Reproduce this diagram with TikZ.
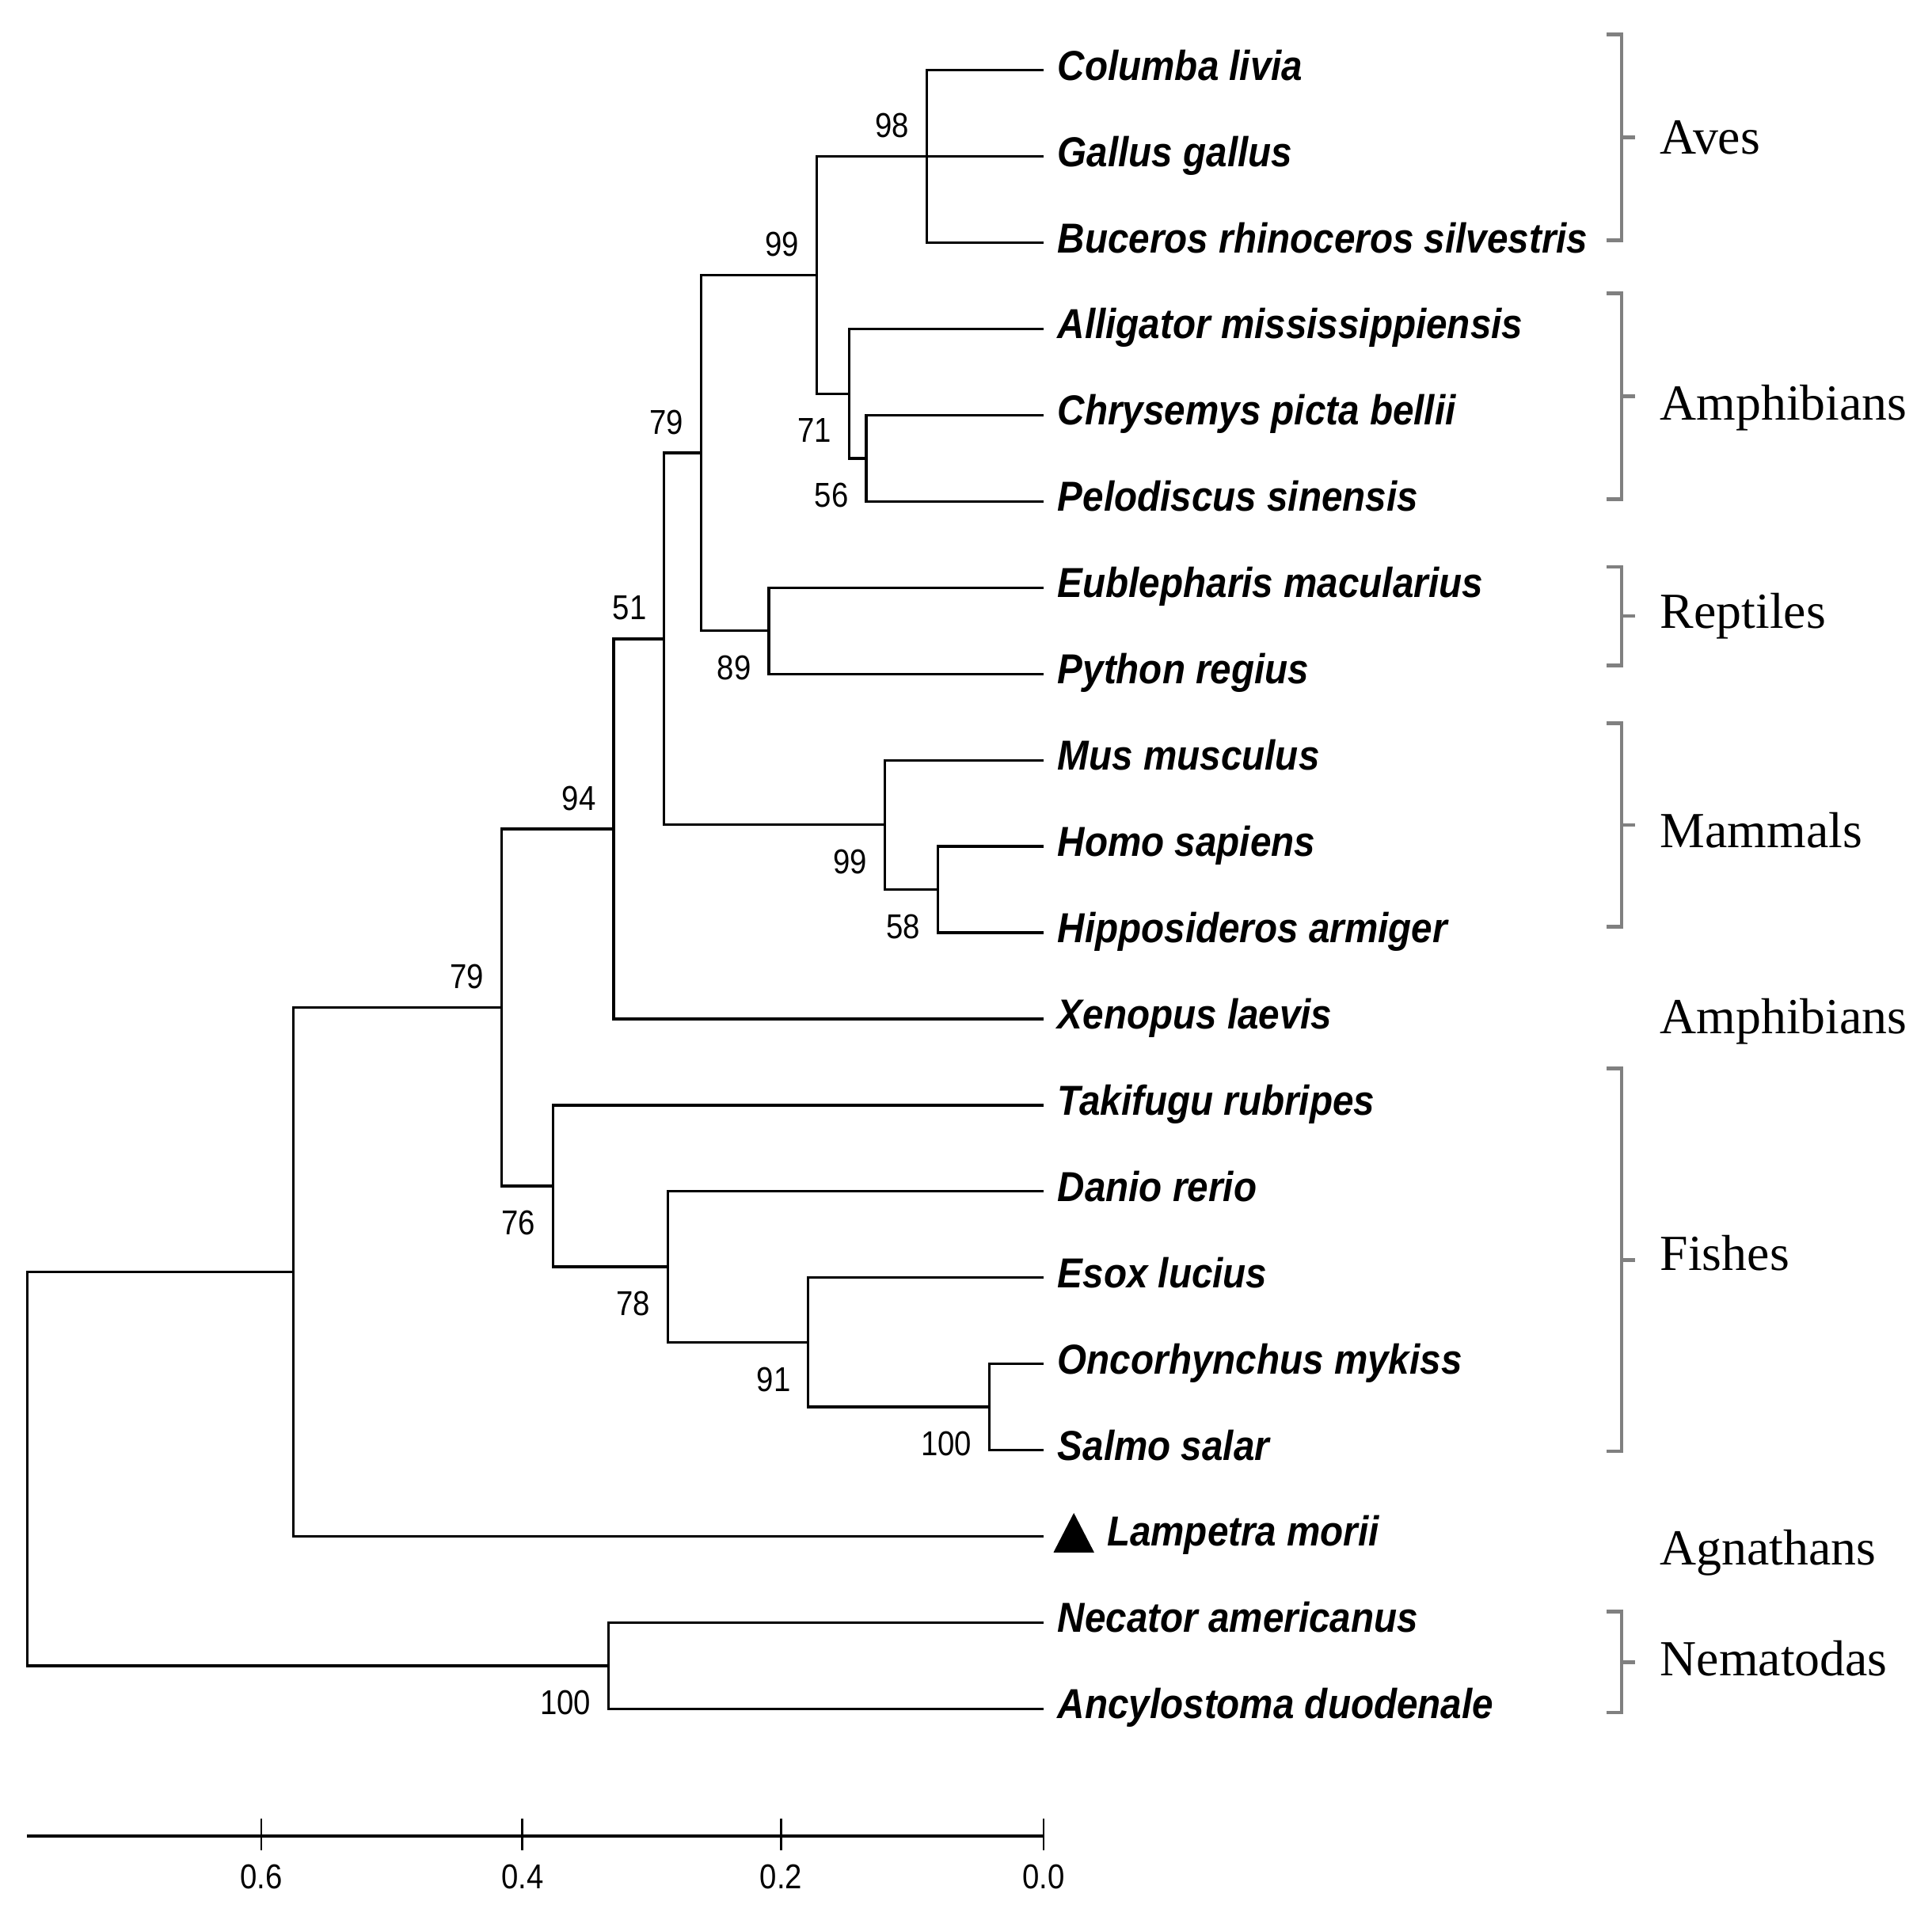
\documentclass[tikz,border=0pt]{standalone}
\usepackage{fontspec}
\setmainfont{Liberation Serif}
\newfontfamily\arialf{Liberation Sans}[FakeStretch=0.9]
\newfontfamily\narrowf{Liberation Sans}[FakeStretch=0.88]
\begin{document}
\begin{tikzpicture}[x=0.5pt,y=-0.5pt,
  branch/.style={line width=1.05pt},
  species/.style={anchor=base west, inner sep=0pt, font=\arialf\bfseries\itshape\fontsize{17}{17}\selectfont},
  boot/.style={anchor=east, inner sep=0pt, font=\narrowf\fontsize{14}{14}\selectfont},
  grp/.style={anchor=base west, inner sep=0pt, font=\fontsize{20.5}{21}\selectfont},
  brk/.style={draw=black!50, line width=1.5pt},
  scalelab/.style={anchor=center, inner sep=0pt, font=\narrowf\fontsize{14}{14}\selectfont}]
\useasboundingbox[fill=white] (0,0) rectangle (1568,1555);

% leaf tips
\foreach \i in {1,...,20} {\coordinate (t\i) at (847,{57+70*(\i-1)});}

% leaf labels
\node[species] (s1)  at (858,65)   {Columba livia};
\node[species] (s2)  at (858,135)  {Gallus gallus};
\node[species] (s3)  at (858,205)  {Buceros rhinoceros silvestris};
\node[species] (s4)  at (858,275)  {Alligator mississippiensis};
\node[species] (s5)  at (858,345)  {Chrysemys picta bellii};
\node[species] (s6)  at (858,415)  {Pelodiscus sinensis};
\node[species] (s7)  at (858,485)  {Eublepharis macularius};
\node[species] (s8)  at (858,555)  {Python regius};
\node[species] (s9)  at (858,625)  {Mus musculus};
\node[species] (s10) at (858,695)  {Homo sapiens};
\node[species] (s11) at (858,765)  {Hipposideros armiger};
\node[species] (s12) at (858,835)  {Xenopus laevis};
\node[species] (s13) at (858,905)  {Takifugu rubripes};
\node[species] (s14) at (858,975)  {Danio rerio};
\node[species] (s15) at (858,1045) {Esox lucius};
\node[species] (s16) at (858,1115) {Oncorhynchus mykiss};
\node[species] (s17) at (858,1185) {Salmo salar};
\node[species] (s18) at (898,1255) {Lampetra morii};
\node[species] (s19) at (858,1325) {Necator americanus};
\node[species] (s20) at (858,1395) {Ancylostoma duodenale};
\fill (855,1260) -- (888,1260) -- (871.5,1228) -- cycle;

% internal nodes
\coordinate (nA) at (752,127);
\coordinate (nB) at (703,372);
\coordinate (nC) at (689,319.5);
\coordinate (nD) at (663,223.25);
\coordinate (nE) at (624,512);
\coordinate (nF) at (569,367.6);
\coordinate (nG) at (761,722);
\coordinate (nH) at (718,669.5);
\coordinate (nI) at (539,518.6);
\coordinate (nJ) at (498,672.8);
\coordinate (nK) at (803,1142);
\coordinate (nL) at (656,1089.5);
\coordinate (nM) at (542,1028.25);
\coordinate (nN) at (449,962.6);
\coordinate (nO) at (407,817.7);
\coordinate (nP) at (238,1032.4);
\coordinate (nQ) at (494,1352);
\coordinate (nR) at (22,1192.2);

% branches
\draw[branch] (t1) -| (nA) |- (t3);
\draw[branch] (nA) -- (t2);
\draw[branch] (t5) -| (nB) |- (t6);
\draw[branch] (t4) -| (nC) |- (nB);
\draw[branch] (nA) -| (nD) |- (nC);
\draw[branch] (t7) -| (nE) |- (t8);
\draw[branch] (nD) -| (nF) |- (nE);
\draw[branch] (t10) -| (nG) |- (t11);
\draw[branch] (t9) -| (nH) |- (nG);
\draw[branch] (nF) -| (nI) |- (nH);
\draw[branch] (nI) -| (nJ) |- (t12);
\draw[branch] (t16) -| (nK) |- (t17);
\draw[branch] (t15) -| (nL) |- (nK);
\draw[branch] (t14) -| (nM) |- (nL);
\draw[branch] (t13) -| (nN) |- (nM);
\draw[branch] (nJ) -| (nO) |- (nN);
\draw[branch] (nO) -| (nP) |- (t18);
\draw[branch] (t19) -| (nQ) |- (t20);
\draw[branch] (nP) -| (nR) |- (nQ);

% bootstrap values (above: -25, below: +30)
\node[boot] (b98)  at ([shift={(-14,-25)}]nA) {98};
\node[boot] (b99a) at ([shift={(-14,-25)}]nD) {99};
\node[boot] (b71)  at ([shift={(-14,30)}]nC) {71};
\node[boot] (b56)  at ([shift={(-14,30)}]nB) {56};
\node[boot] (b79a) at ([shift={(-14,-25)}]nF) {79};
\node[boot] (b89)  at ([shift={(-14,30)}]nE) {89};
\node[boot] (b51)  at ([shift={(-14,-25)}]nI) {51};
\node[boot] (b99b) at ([shift={(-14,30)}]nH) {99};
\node[boot] (b58)  at ([shift={(-14,30)}]nG) {58};
\node[boot] (b94)  at ([shift={(-14,-25)}]nJ) {94};
\node[boot] (b79b) at ([shift={(-14,-25)}]nO) {79};
\node[boot] (b76)  at ([shift={(-14,30)}]nN) {76};
\node[boot] (b78)  at ([shift={(-14,30)}]nM) {78};
\node[boot] (b91)  at ([shift={(-14,30)}]nL) {91};
\node[boot] (b100a) at ([shift={(-14,30)}]nK) {100};
\node[boot] (b100b) at ([shift={(-14,30)}]nQ) {100};

% group brackets
\foreach \a/\b in {28/195, 238/405, 460/540, 587/752, 867/1178, 1308/1390} {
  \draw[brk] (1304,\a) -- (1316,\a) -- (1316,\b) -- (1304,\b);
  \draw[brk] (1316,{(\a+\b)/2}) -- (1327,{(\a+\b)/2});
}
\node[grp] (gAves) at (1347,125) {Aves};
\node[grp] (gAmph1) at (1347,341) {Amphibians};
\node[grp] (gRept) at (1347,510) {Reptiles};
\node[grp] (gMamm) at (1347,688) {Mammals};
\node[grp] (gAmph2) at (1347,839) {Amphibians};
\node[grp] (gFish) at (1347,1031) {Fishes};
\node[grp] (gAgna) at (1347,1270) {Agnathans};
\node[grp] (gNema) at (1347,1360) {Nematodas};

% scale bar
\coordinate (sb0) at (22,1490);
\coordinate (sb1) at (847,1490);
\draw[line width=1.3pt] (sb0) -- (sb1);
\foreach \x/\l in {212/0.6, 424/0.4, 634/0.2, 847/0.0} {
  \draw[line width=0.9pt] (\x,1476) -- (\x,1502);
  \node[scalelab] at (\x,1523) {\l};
}
\end{tikzpicture}
\end{document}
